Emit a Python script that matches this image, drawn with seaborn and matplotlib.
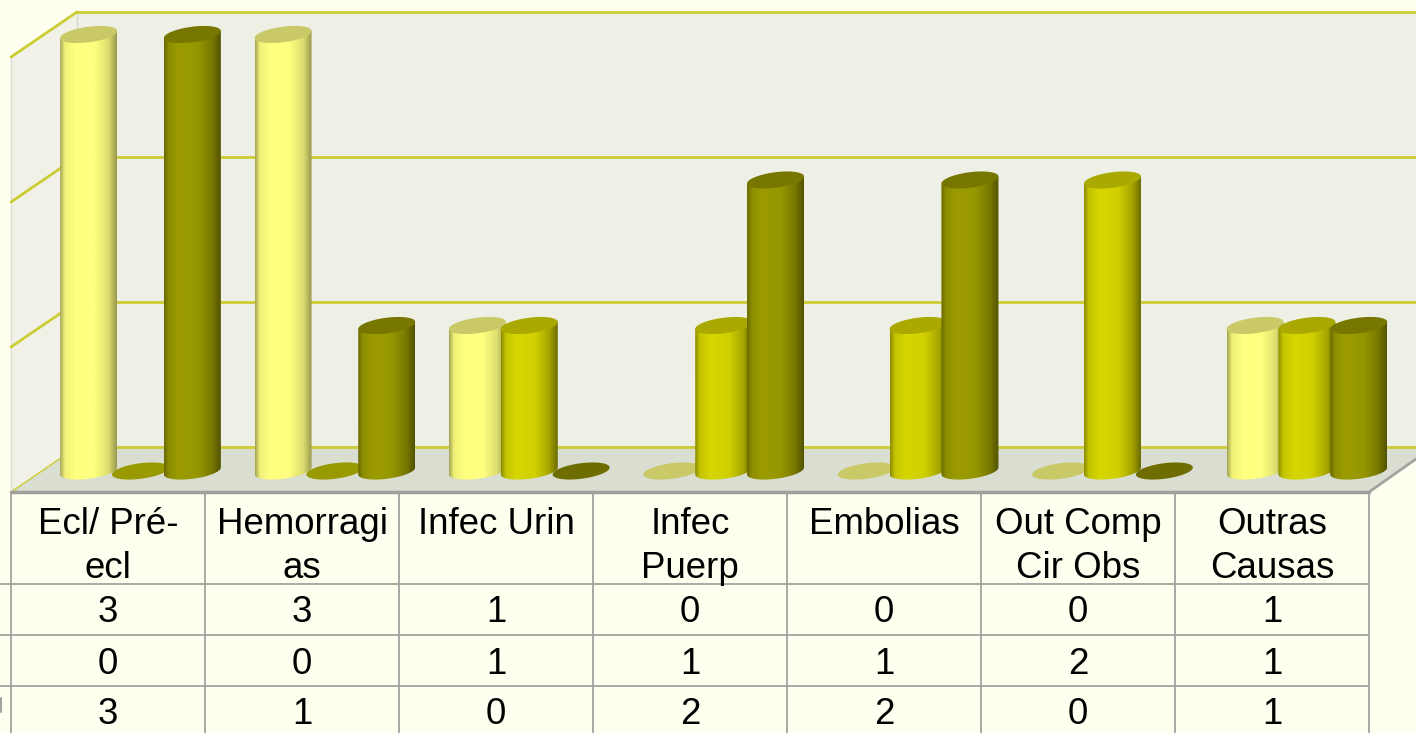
import numpy as np
import pandas as pd
import matplotlib
matplotlib.use("Agg")
import matplotlib.pyplot as plt
import seaborn as sns
from matplotlib.colors import LinearSegmentedColormap
from matplotlib.patches import Polygon

# values
categories = ["Ecl/ Pré-\necl", "Hemorragi\nas", "Infec Urin", "Infec\nPuerp",
              "Embolias", "Out Comp\nCir Obs", "Outras\nCausas"]
serie_a = [3, 3, 1, 0, 0, 0, 1]
serie_b = [0, 0, 1, 1, 1, 2, 1]
serie_c = [3, 1, 0, 2, 2, 0, 1]
series_names = ["a", "b", "c"]

colors = ["#FFFF80", "#CCCC00", "#999900"]
top_colors = ["#C9C968", "#A9A900", "#777700"]
zero_colors = ["#C9C968", "#999900", "#6E6E00"]
shades = [
    ["#A8A855", "#F0F078", "#FFFF80", "#FFFF80", "#DEDE70", "#9C9C50"],
    ["#8F8F00", "#C4C400", "#D6D600", "#D0D000", "#A6A600", "#6E6E00"],
    ["#6C6C00", "#8E8E00", "#9C9C00", "#969600", "#787800", "#545400"],
]

BG = "#FFFFF0"
GRID = "#CCCC33"
TABLE = "#A3A3A0"
W, H = 1416, 733

sns.set_theme(style="white")
plt.rcParams["font.family"] = ["Liberation Sans", "DejaVu Sans"]

fig = plt.figure(figsize=(W / 100, H / 100), dpi=100, facecolor=BG)

# back layer in pixels: walls, floor, gridlines
bg = fig.add_axes([0, 0, 1, 1], zorder=0)
bg.set_xlim(0, W)
bg.set_ylim(H, 0)
bg.axis("off")
bg.add_patch(Polygon([(77, 12), (W, 12), (W, 447), (77, 447)], fc="#EEEFE5", ec="none"))
bg.add_patch(Polygon([(11, 57), (77, 12), (77, 447), (11, 492)], fc="#F1F1E8", ec="none"))
bg.add_patch(Polygon([(11, 492), (77, 447), (W, 447), (W, 459), (1369, 492)], fc="#D9DED0", ec="none"))
bg.plot([77, 77], [12, 447], color="#D8D8D0", lw=1)
bg.plot([11, 11], [57, 492], color="#DEDED6", lw=1)
for gy in [12, 157, 302, 447]:
    bg.plot([77, W], [gy, gy], color=GRID, lw=2)
    bg.plot([11, 77], [gy + 45, gy], color=GRID, lw=2 if gy < 447 else 1)
bg.plot([1369, W], [492, 459], color=TABLE, lw=2)

# bars through seaborn, scaled so that the axes cover the whole figure
df = pd.DataFrame({
    "causa": categories * 3,
    "serie": np.repeat(series_names, len(categories)),
    "valor": serie_a + serie_b + serie_c,
})
ax = fig.add_axes([0, 0, 1, 1], zorder=1)
ax.patch.set_alpha(0)
sns.barplot(data=df, x="causa", y="valor", hue="serie", palette=colors,
            width=0.8, legend=False, ax=ax)

PX_X, PX_Y = 194.4, 145.5
xlim = ((0 - 140.5) / PX_X, (W - 140.5) / PX_X)
ylim = ((471 - H) / PX_Y, 471 / PX_Y)
half_w = 28.5 / PX_X
shear = 3.5 / PX_Y
rad = 7.8 / PX_Y
t = np.linspace(0, 2 * np.pi, 120)

z = 3
for i, cont in enumerate(ax.containers):
    cmap = LinearSegmentedColormap.from_list(
        "c", list(zip([0, 0.08, 0.27, 0.6, 0.85, 1], shades[i])))
    for bar in cont:
        bar.set_visible(False)
        cx = bar.get_x() + bar.get_width() / 2
        h = bar.get_height()
        ex = cx + half_w * np.cos(t)
        if h > 0:
            low = t[t >= np.pi]
            lx = cx + half_w * np.cos(low)
            ly = rad * np.sin(low) + shear * np.cos(low)
            verts = np.column_stack([
                np.r_[cx - half_w, cx + half_w, lx[::-1]],
                np.r_[h - shear, h + shear, ly[::-1]],
            ])
            body = Polygon(verts, fc="none", ec="none", zorder=z)
            ax.add_patch(body)
            im = ax.imshow(np.linspace(0, 1, 64)[None, :], cmap=cmap, aspect="auto",
                           extent=(cx - half_w, cx + half_w, -0.2, h + 0.2), zorder=z)
            im.set_clip_path(body)
        ey = h + rad * np.sin(t) + shear * np.cos(t)
        cap = top_colors[i] if h > 0 else zero_colors[i]
        ax.add_patch(Polygon(np.column_stack([ex, ey]), fc=cap, ec="none", zorder=z + 1))
        z += 2

ax.set_xlim(*xlim)
ax.set_ylim(*ylim)
ax.axis("off")

# data table below the floor
tb = fig.add_axes([0, 0, 1, 1], zorder=2)
tb.patch.set_alpha(0)
tb.set_xlim(0, W)
tb.set_ylim(H, 0)
tb.axis("off")
col_x = [11 + 194 * k for k in range(len(categories) + 1)]
tb.plot([11, 1369], [492, 492], color="#A0A09A", lw=2.5)
for lx in col_x:
    tb.plot([lx, lx], [492, H], color=TABLE, lw=1.3)
row_y = [584, 635, 686]
for ry in row_y:
    tb.plot([0, 1369], [ry, ry], color=TABLE, lw=1.3)
tb.plot([0.5, 0.5], [698, 712], color=TABLE, lw=1.5)

for k, name in enumerate(categories):
    center = col_x[k] + 97
    parts = name.split("\n")
    for n, part in enumerate(parts):
        tb.text(center, 525 + 43 * n, part, ha="center", va="center", fontsize=26.4, color="black")
    for ry, row in zip(row_y, [serie_a, serie_b, serie_c]):
        tb.text(center, ry + 29, str(row[k]), ha="center", va="center", fontsize=26.4, color="black")

fig.savefig("out.png", dpi=100, facecolor=BG)
